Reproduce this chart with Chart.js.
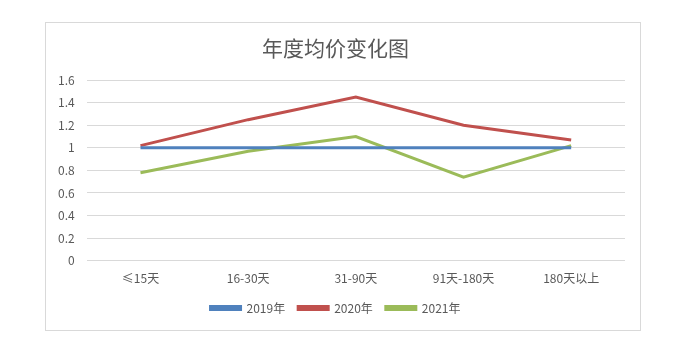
<!DOCTYPE html>
<html>
<head>
<meta charset="utf-8">
<script src="https://cdn.jsdelivr.net/npm/chart.js@4"></script>
<style>
  html, body { margin: 0; padding: 0; background: #ffffff; }
  #box { position: absolute; left: 45px; top: 22px; width: 594px; height: 307px; border: 1px solid #d9d9d9; }
</style>
</head>
<body>
<div id="box"><canvas id="jiage"></canvas></div>
<script>
// 年度均价变化图
var labels = ['≤15天', '16-30天', '31-90天', '91天-180天', '180天以上'];
var y2019 = [1, 1, 1, 1, 1];
var y2020 = [1.02, 1.25, 1.45, 1.2, 1.07];
var y2021 = [0.78, 0.97, 1.1, 0.74, 1.02];
var yTicks = [0, 0.2, 0.4, 0.6, 0.8, 1, 1.2, 1.4, 1.6];

Chart.defaults.font.family = '"Noto Sans CJK SC", "Liberation Sans", sans-serif';
Chart.defaults.font.size = 12;
Chart.defaults.color = '#595959';

function serie(nome, dados, cor) {
    return {
        label: nome,
        data: dados,
        borderColor: cor,
        backgroundColor: cor,
        borderWidth: 3,
        pointRadius: 0,
        tension: 0
    };
}

var ctx = document.getElementById('jiage').getContext('2d');
var grafico = new Chart(ctx, {
    type: 'line',
    data: {
        labels: labels,
        datasets: [
            serie('2019年', y2019, '#4f81bd'),
            serie('2020年', y2020, '#c0504d'),
            serie('2021年', y2021, '#9bbb59')
        ]
    },
    options: {
        responsive: true,
        maintainAspectRatio: false,
        animation: false,
        layout: { padding: { left: 0, right: 15, top: 9, bottom: 6 } },
        scales: {
            x: {
                offset: true,
                grid: { display: false },
                border: { display: false },
                ticks: { padding: 3 }
            },
            y: {
                min: 0,
                max: 1.6,
                afterBuildTicks: function (ax) { ax.ticks = yTicks.map(function (v) { return { value: v }; }); },
                grid: { color: '#d9d9d9', drawTicks: false },
                border: { display: false },
                ticks: {
                    padding: 12,
                    callback: function (v) { return String(Math.round(v * 10) / 10); }
                }
            }
        },
        plugins: {
            title: {
                display: true,
                text: '年度均价变化图',
                font: { size: 21, weight: 'normal' },
                color: '#595959',
                padding: { top: 3, bottom: 20 }
            },
            legend: {
                position: 'bottom',
                labels: { boxWidth: 30, boxHeight: 3, padding: 13 }
            },
            tooltip: { enabled: false }
        }
    }
});
</script>
</body>
</html>
